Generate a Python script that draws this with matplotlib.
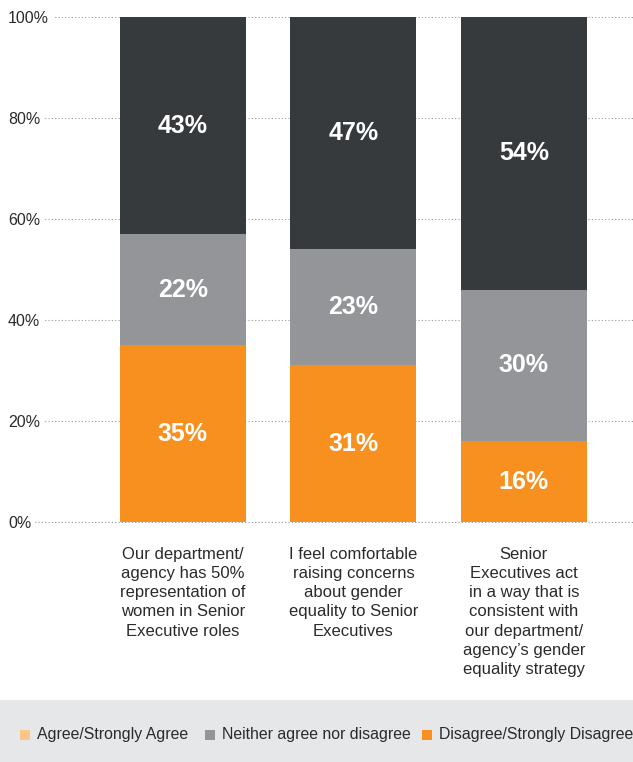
import numpy as np
import matplotlib.pyplot as plt
from matplotlib.patches import Rectangle

plt.rcParams['font.family'] = ['Liberation Sans', 'DejaVu Sans']

categories = [
    "Our department/\nagency has 50%\nrepresentation of\nwomen in Senior\nExecutive roles",
    "I feel comfortable\nraising concerns\nabout gender\nequality to Senior\nExecutives",
    "Senior\nExecutives act\nin a way that is\nconsistent with\nour department/\nagency\u2019s gender\nequality strategy",
]
disagree = [35, 31, 16]
neither = [22, 23, 30]
agree = [43, 47, 54]
legend_labels = ["Agree/Strongly Agree", "Neither agree nor disagree", "Disagree/Strongly Disagree"]
yticks = [0, 20, 40, 60, 80, 100]

c_dark = "#363a3d"
c_gray = "#939598"
c_orange = "#f7901e"
c_light = "#fdc689"
c_text = "#2b2b2b"

fig = plt.figure(figsize=(6.33, 7.62), dpi=100)
ax = fig.add_axes([8 / 633, 0.315, 625 / 633, 0.6627])

x = np.arange(len(categories))
w = 0.74
ax.bar(x, disagree, w, color=c_orange, zorder=2)
ax.bar(x, neither, w, bottom=disagree, color=c_gray, zorder=2)
bottom2 = np.array(disagree) + np.array(neither)
ax.bar(x, agree, w, bottom=bottom2, color=c_dark, zorder=2)

# value labels centred in each segment (top segment centred in what is visible)
for i in range(len(x)):
    segs = [(0, disagree[i]), (disagree[i], neither[i]), (bottom2[i], agree[i])]
    for b, h in segs:
        ax.text(x[i], min(b + h / 2, (b + 100) / 2), f"{h}%", ha='center', va='center',
                color='white', fontsize=18, fontweight='bold', zorder=3)

ax.set_ylim(0, 100)
ax.set_xlim(-1.026, 2.64)
ax.set_yticks(yticks)
ax.tick_params(axis='y', length=0, labelleft=False)
ax.set_xticks([])
for s in ax.spines.values():
    s.set_visible(False)
ax.yaxis.grid(True, linestyle=(0, (1, 2)), color="#999999", linewidth=0.8, zorder=0)
ax.axhline(0, linestyle=(0, (1, 2)), color="#999999", linewidth=0.8, zorder=1, clip_on=False)

# left-aligned tick labels that mask the start of each dotted gridline
for t in yticks:
    ax.text(0, t, f"{t}%", transform=ax.get_yaxis_transform(), ha='left',
            va='center_baseline', fontsize=11.5, color=c_text, zorder=4, clip_on=False,
            bbox=dict(boxstyle='square,pad=0.22', facecolor='white', edgecolor='none'))

for i, lab in enumerate(categories):
    ax.text(x[i], -5.0, lab, ha='center', va='top', fontsize=12, color=c_text,
            linespacing=1.34)

# legend band
fig.patches.append(Rectangle((0, 0), 1, 62 / 762, transform=fig.transFigure,
                             facecolor="#e6e7e8", edgecolor='none', zorder=0))
leg_colors = [c_light, c_gray, c_orange]
sq_x = [20, 205, 422]
ly = 1 - 735 / 762
for sx, col, lab in zip(sq_x, leg_colors, legend_labels):
    fig.patches.append(Rectangle((sx / 633, ly - 5 / 762), 10 / 633, 10 / 762,
                                 transform=fig.transFigure, facecolor=col, edgecolor='none'))
    fig.text((sx + 17) / 633, ly, lab, ha='left', va='center', fontsize=11.4, color=c_text)

fig.savefig("out.png", dpi=100)
